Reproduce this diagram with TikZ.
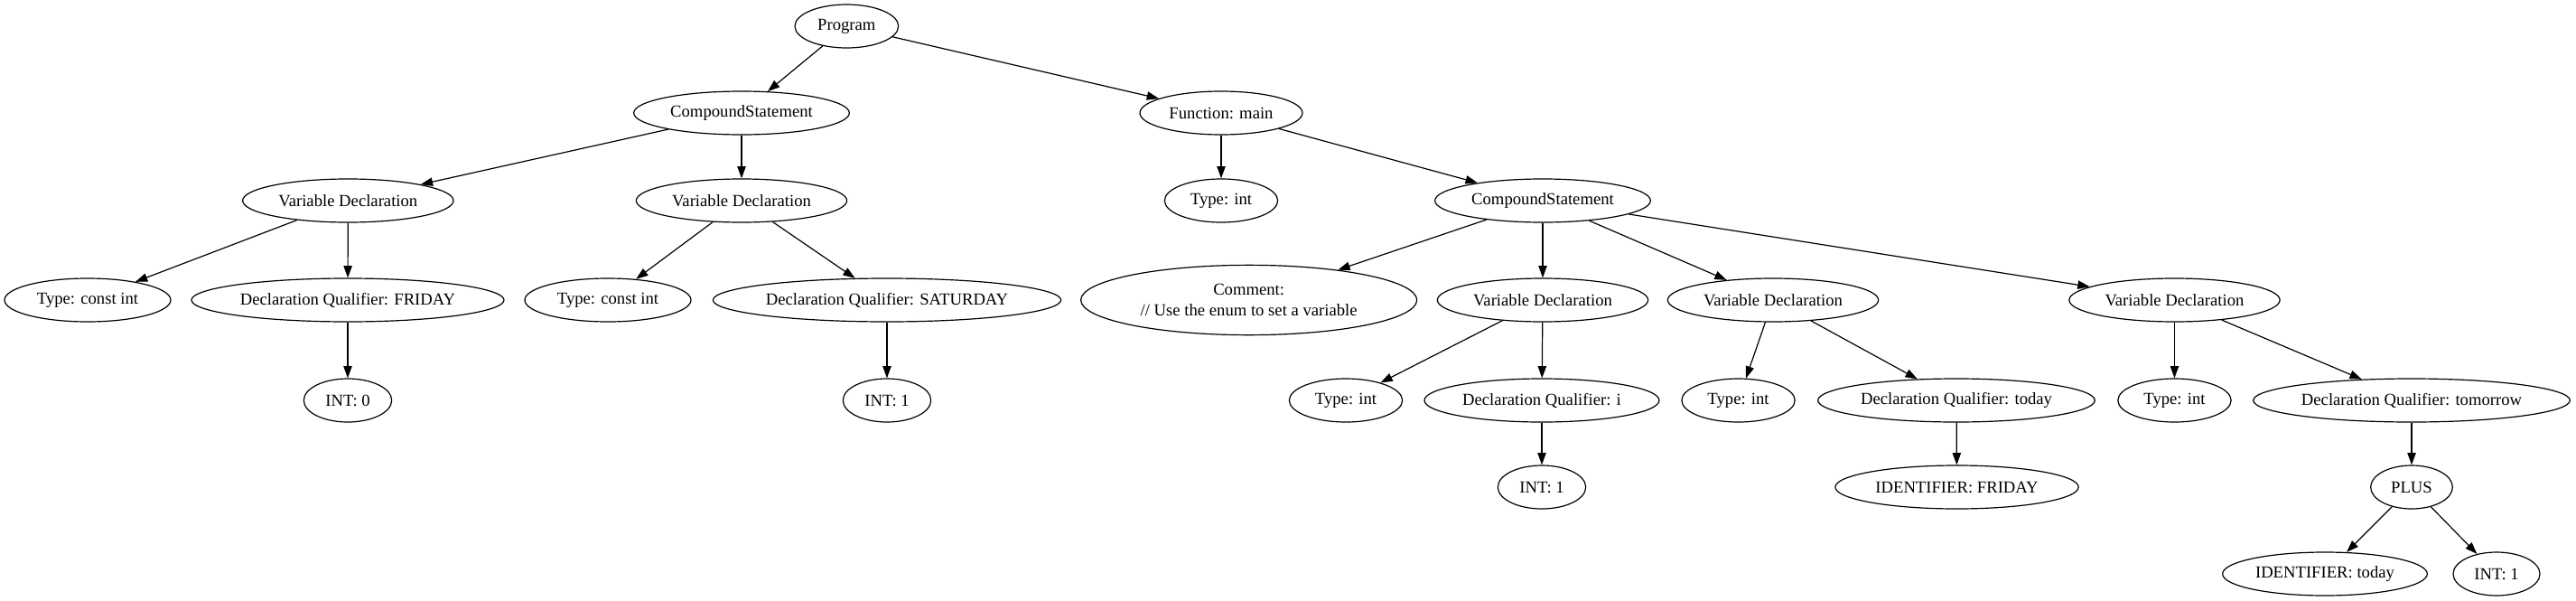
\documentclass[tikz,border=0pt]{standalone}
\usepackage{fontspec}
\setmainfont{Liberation Serif}
\usetikzlibrary{shapes.geometric,arrows.meta}
\tikzset{
  tn/.style={ellipse,draw,line width=0.9pt,inner sep=0pt,minimum height=36pt,
    font=\fontsize{14pt}{16.8pt}\selectfont,align=center},
  edge/.style={line width=0.9pt,-{Triangle[length=10pt,width=7pt]}}
}
\begin{document}
\begin{tikzpicture}[x=1pt,y=1pt]
\fill[white] (0,0) rectangle (2139,-498);
\useasboundingbox (0,0) rectangle (2139,-498);
% level 0
\node[tn,minimum width=86pt] (prog) at (703,-21.75) {Program};
% level 1
\node[tn,minimum width=179pt] (cs1) at (615.75,-93.75) {CompoundStatement};
\node[tn,minimum width=135pt] (fn) at (1014,-93.75) {Function: main};
% level 2
\node[tn,minimum width=175pt] (vd1) at (289,-166.5) {Variable Declaration};
\node[tn,minimum width=175pt] (vd2) at (615.75,-166.5) {Variable Declaration};
\node[tn,minimum width=94pt] (tfn) at (1014,-166.5) {Type: int};
\node[tn,minimum width=179pt] (cs2) at (1281,-166.5) {CompoundStatement};
% level 3
\node[tn,minimum width=138pt] (tc1) at (72.75,-249) {Type: const int};
\node[tn,minimum width=259.5pt] (dqf) at (288.75,-249) {Declaration Qualifier: FRIDAY};
\node[tn,minimum width=138pt] (tc2) at (504.75,-249) {Type: const int};
\node[tn,minimum width=289pt] (dqs) at (736.5,-249) {Declaration Qualifier: SATURDAY};
\node[tn,minimum width=279pt,minimum height=58pt] (cmt) at (1037,-249) {Comment:\\// Use the enum to set a variable};
\node[tn,minimum width=175pt] (vd3) at (1281,-249) {Variable Declaration};
\node[tn,minimum width=175pt] (vd4) at (1472.25,-249) {Variable Declaration};
\node[tn,minimum width=175pt] (vd5) at (1805.6,-249) {Variable Declaration};
% level 4
\node[tn,minimum width=73pt] (int0) at (288.75,-332.25) {INT: 0};
\node[tn,minimum width=73pt] (int1a) at (736.5,-332.25) {INT: 1};
\node[tn,minimum width=94pt] (ti3) at (1117.5,-332.25) {Type: int};
\node[tn,minimum width=195pt] (dqi) at (1280.25,-332.25) {Declaration Qualifier: i};
\node[tn,minimum width=94pt] (ti4) at (1443.4,-332.25) {Type: int};
\node[tn,minimum width=230pt] (dqt) at (1624.5,-332.25) {Declaration Qualifier: today};
\node[tn,minimum width=94pt] (ti5) at (1805.6,-332.25) {Type: int};
\node[tn,minimum width=263pt] (dqm) at (2002.5,-332.25) {Declaration Qualifier: tomorrow};
% level 5
\node[tn,minimum width=73pt] (int1b) at (1280.25,-404.25) {INT: 1};
\node[tn,minimum width=202pt] (idf) at (1624.9,-404.25) {IDENTIFIER: FRIDAY};
\node[tn,minimum width=68pt] (plus) at (2002.5,-404.25) {PLUS};
% level 6
\node[tn,minimum width=170pt] (idt) at (1930.5,-476.25) {IDENTIFIER: today};
\node[tn,minimum width=72pt] (int1c) at (2073,-476.25) {INT: 1};
% edges
\draw[edge] (prog) -- (cs1);
\draw[edge] (prog) -- (fn);
\draw[edge] (cs1) -- (vd1);
\draw[edge] (cs1) -- (vd2);
\draw[edge] (vd1) -- (tc1);
\draw[edge] (vd1) -- (dqf);
\draw[edge] (dqf) -- (int0);
\draw[edge] (vd2) -- (tc2);
\draw[edge] (vd2) -- (dqs);
\draw[edge] (dqs) -- (int1a);
\draw[edge] (fn) -- (tfn);
\draw[edge] (fn) -- (cs2);
\draw[edge] (cs2) -- (cmt);
\draw[edge] (cs2) -- (vd3);
\draw[edge] (cs2) -- (vd4);
\draw[edge] (cs2) -- (vd5);
\draw[edge] (vd3) -- (ti3);
\draw[edge] (vd3) -- (dqi);
\draw[edge] (dqi) -- (int1b);
\draw[edge] (vd4) -- (ti4);
\draw[edge] (vd4) -- (dqt);
\draw[edge] (dqt) -- (idf);
\draw[edge] (vd5) -- (ti5);
\draw[edge] (vd5) -- (dqm);
\draw[edge] (dqm) -- (plus);
\draw[edge] (plus) -- (idt);
\draw[edge] (plus) -- (int1c);
\end{tikzpicture}
\end{document}
